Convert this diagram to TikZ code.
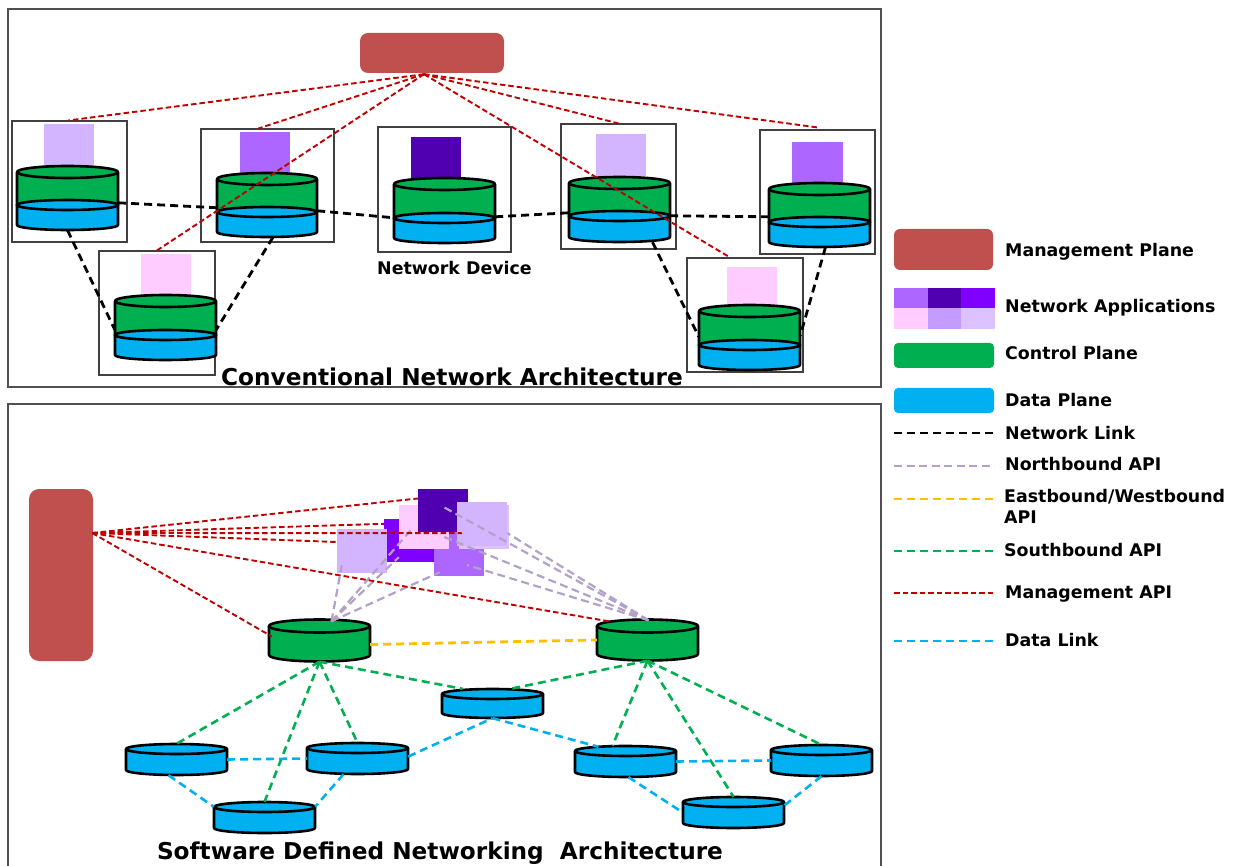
\documentclass[tikz,border=0pt]{standalone}
\usepackage{fontspec}
\setmainfont{DejaVu Sans}
\usetikzlibrary{calc,fit}

\definecolor{mgmt}{HTML}{C0504D}
\definecolor{cgreen}{HTML}{00B050}
\definecolor{cblue}{HTML}{00B0F0}
\definecolor{mred}{HTML}{C00000}
\definecolor{lilac}{HTML}{B3A2C7}
\definecolor{ewyellow}{HTML}{FFC000}
\definecolor{applav}{HTML}{D3B5FF}
\definecolor{applav2}{HTML}{DCC3FF}
\definecolor{appmed}{HTML}{AD66FF}
\definecolor{appmid}{HTML}{C49CFF}
\definecolor{appdark}{HTML}{5000B0}
\definecolor{appviolet}{HTML}{7F00FF}
\definecolor{apppink}{HTML}{FFCCFF}
\definecolor{framegray}{HTML}{505050}

% a plane drum: #1 name, #2 left x, #3 right x, #4 top y, #5 bottom y, #6 ellipse y radius, #7 fill
\newcommand\drum[7]{%
  \fill[#7] (#2,#4) -- (#2,#5) arc[start angle=180,end angle=0,x radius={(#3-#2)/2},y radius=#6] -- (#3,#4) -- cycle;
  \draw[cylline] (#2,#4) -- (#2,#5) arc[start angle=180,end angle=0,x radius={(#3-#2)/2},y radius=#6] -- (#3,#4);
  \draw[cylline,fill=#7] ({(#2+#3)/2},#4) ellipse[x radius={(#3-#2)/2},y radius=#6];
  \node[inner sep=0pt,fit={(#2,{#4-#6}) (#3,{#5+#6})}] (#1) {};
}
% an application square: #1 name, #2 x1, #3 y1, #4 x2, #5 y2, #6 fill
\newcommand\appsq[6]{%
  \node[inner sep=0pt,fill=#6,fit={(#2,#3) (#4,#5)}] (#1) {};
}

\begin{document}
\begin{tikzpicture}[x=1pt,y=-1pt,
  cylline/.style={draw=black,line width=2.6pt,line join=round},
  panel/.style={draw=framegray,line width=1.2pt,inner sep=0pt},
  devbox/.style={draw=black!75,line width=1.1pt,inner sep=0pt},
  mgmtbox/.style={fill=mgmt,rounded corners=8pt,inner sep=0pt},
  mgmtapi/.style={draw=mred,line width=1.9pt,dash pattern=on 5.5pt off 3pt},
  netlink/.style={draw=black,line width=2.8pt,dash pattern=on 8pt off 5pt},
  northapi/.style={draw=lilac,line width=2.2pt,dash pattern=on 8pt off 4.5pt},
  ewapi/.style={draw=ewyellow,line width=2.8pt,dash pattern=on 8pt off 5pt},
  southapi/.style={draw=cgreen,line width=2.6pt,dash pattern=on 8pt off 5pt},
  datalink/.style={draw=cblue,line width=2.6pt,dash pattern=on 8pt off 5pt},
  lbl/.style={font=\fontsize{17.4}{20}\selectfont\bfseries,inner sep=0pt,anchor=base west},
  ttl/.style={font=\fontsize{23.2}{26}\selectfont\bfseries,inner sep=0pt,anchor=base}]

\useasboundingbox (0,0) rectangle (1248,866);
\clip (0,0) rectangle (1248,866);

% ---------------- conventional architecture ----------------
\node[panel,fit={(8,9) (881,387)}] (toppanel) {};
\node[mgmtbox,fit={(360,33) (504,73)}] (mp) {};

\node[devbox,fit={(12,121) (127,242)}] (n1) {};
\node[devbox,fit={(201,129) (334,242)}] (n2) {};
\node[devbox,fit={(99,251) (215,375)}] (n3) {};
\node[devbox,fit={(378,127) (511,252)}] (nc) {};
\node[devbox,fit={(561,124) (676,249)}] (n4) {};
\node[devbox,fit={(687,258) (803,372)}] (n5) {};
\node[devbox,fit={(760,130) (875,254)}] (n6) {};

\appsq{p1}{44}{124}{94}{166}{applav}
\appsq{p2}{240}{132}{290}{174}{appmed}
\appsq{p3}{141}{254}{191}{296}{apppink}
\appsq{pc}{411}{137}{461}{179}{appdark}
\appsq{p4}{596}{134}{646}{176}{applav}
\appsq{p5}{727}{267}{777}{309}{apppink}
\appsq{p6}{792}{142}{843}{184}{appmed}

\drum{g1}{17}{118}{172}{205}{6}{cgreen}
\drum{b1}{17}{118}{205}{225}{5}{cblue}
\drum{g2}{217}{317}{179}{212}{6}{cgreen}
\drum{b2}{217}{317}{212}{232}{5}{cblue}
\drum{g3}{115}{216}{301}{335}{6}{cgreen}
\drum{b3}{115}{216}{335}{355}{5}{cblue}
\drum{gc}{394}{495}{184}{218}{6}{cgreen}
\drum{bc}{394}{495}{218}{238}{5}{cblue}
\drum{g4}{569}{670}{183}{216}{6}{cgreen}
\drum{b4}{569}{670}{216}{237}{5}{cblue}
\drum{g5}{699}{800}{311}{345}{6}{cgreen}
\drum{b5}{699}{800}{345}{365}{5}{cblue}
\drum{g6}{769}{870}{189}{222}{6}{cgreen}
\drum{b6}{769}{870}{222}{242}{5}{cblue}

% network links between devices
\draw[netlink] ($(b1.north east)+(0,3)$) -- ($(b2.north west)+(1,1)$);
\draw[netlink] ($(b2.north east)+(0,4)$) -- ($(bc.north west)+(0,5)$);
\draw[netlink] ($(bc.north east)+(0,4)$) -- ($(b4.north west)+(0,2)$);
\draw[netlink] ($(b4.north east)+(0,5)$) -- ($(b6.north west)+(2,0)$);
\draw[netlink] (b1.south) -- ($(b3.north west)+(0,0)$);
\draw[netlink] ($(b2.south)+(6,0)$) -- ($(b3.north east)+(0,0)$);
\draw[netlink] ($(b4.south)+(33,0)$) -- ($(b5.north west)+(0,-3)$);
\draw[netlink] ($(b6.south)+(6,0)$) -- ($(b5.north east)+(0,-4)$);

% management connections
\coordinate (mpt) at ($(mp.south)+(-8,1)$);
\draw[mgmtapi] (mpt) -- ($(n1.north)+(-1,0)$);
\draw[mgmtapi] (mpt) -- ($(n2.north)+(-9,0)$);
\draw[mgmtapi] (mpt) -- (n3.north);
\draw[mgmtapi] (mpt) -- (n4.north);
\draw[mgmtapi] (mpt) -- ($(n5.north)+(-15,0)$);
\draw[mgmtapi] (mpt) -- ($(n6.north)+(0,-2)$);

\node[lbl] (devlbl) at (377,275) {Network Device};
\node[ttl] (toptitle) at (452,386) {Conventional Network Architecture};

% ---------------- software defined networking ----------------
\node[panel,fit={(8,404) (881,900)}] (botpanel) {};
\node[mgmtbox,rounded corners=10pt,fit={(29,489) (93,661)}] (mpb) {};

\appsq{avi}{384}{519}{434}{562}{appviolet}
\appsq{amd}{434}{532}{484}{576}{appmed}
\appsq{all}{337}{529}{387}{573}{applav}
\appsq{apk}{399}{505}{449}{549}{apppink}
\appsq{adk}{418}{489}{468}{532}{appdark}
\appsq{alr2}{459}{505}{509}{549}{applav2}
\appsq{alr}{457}{502}{507}{546}{applav}

\drum{cL}{269}{370}{626}{655}{6.5}{cgreen}
\drum{cR}{597}{698}{626}{654}{6.5}{cgreen}

\drum{d1}{442}{543}{694}{713}{5}{cblue}
\drum{d2}{126}{227}{749}{770}{5}{cblue}
\drum{d3}{307}{408}{748}{769}{5}{cblue}
\drum{d4}{214}{315}{807}{828}{5}{cblue}
\drum{d5}{575}{676}{751}{772}{5}{cblue}
\drum{d6}{771}{872}{750}{771}{5}{cblue}
\drum{d7}{683}{784}{802}{823}{5}{cblue}

% southbound
\draw[southapi] (cL.south) -- (d2.north);
\draw[southapi] (cL.south) -- (d3.north);
\draw[southapi] (cL.south) -- (d4.north);
\draw[southapi] (cL.south) -- ($(d1.north)+(-30,0)$);
\draw[southapi] (cR.south) -- ($(d1.north)+(18,0)$);
\draw[southapi] (cR.south) -- ($(d5.north)+(-13,0)$);
\draw[southapi] (cR.south) -- (d7.north);
\draw[southapi] (cR.south) -- (d6.north);

% data links
\draw[datalink] (d2.east) -- (d3.west);
\draw[datalink] ($(d2.south)+(-8,0)$) -- ($(d4.north west)+(0,5)$);
\draw[datalink] ($(d3.south)+(-14,0)$) -- ($(d4.north east)+(0,5)$);
\draw[datalink] ($(d3.east)+(0,-2)$) -- (d1.south);
\draw[datalink] (d1.south) -- ($(d5.north)+(-27,1)$);
\draw[datalink] (d5.east) -- (d6.west);
\draw[datalink] ($(d5.south)+(3,0)$) -- (d7.west);
\draw[datalink] (d6.south) -- ($(d7.east)+(0,-7)$);

% east/westbound
\draw[ewapi] ($(cL.east)+(0,4)$) -- (cR.west);

% northbound
\coordinate (nbL) at ($(cL.north)+(12,2)$);
\coordinate (nbR) at ($(cR.north)+(1,1)$);
\draw[northapi] (nbL) -- ($(all.south west)+(5,-8)$);
\draw[northapi] (nbL) -- ($(apk.west)+(13,2)$);
\draw[northapi] (nbL) -- ($(avi.south west)+(15,-5)$);
\draw[northapi] (nbL) -- ($(amd.south west)+(6,-4)$);
\draw[northapi] (nbR) -- ($(adk.west)+(23,-5)$);
\draw[northapi] (nbR) -- ($(adk.south west)+(22,3)$);
\draw[northapi] (nbR) -- ($(amd.center)+(8,11)$);
\draw[northapi] (nbR) -- ($(alr.east)+(0,9)$);

% management connections
\coordinate (mpbt) at ($(mpb.east)+(-1,-42)$);
\draw[mgmtapi] (mpbt) -- ($(adk.west)+(0,-12)$);
\draw[mgmtapi] (mpbt) -- ($(avi.north west)+(0,5)$);
\draw[mgmtapi] (mpbt) -- ($(adk.south east)+(-6,1)$);
\draw[mgmtapi] (mpbt) -- ($(all.west)+(0,-9)$);
\draw[mgmtapi] (mpbt) -- ($(cR.north west)+(12,2)$);
\draw[mgmtapi] (mpbt) -- ($(cL.west)+(3,-4)$);

\node[ttl] (bottitle) at (440,859) {Software Defined Networking~ Architecture};

% ---------------- legend ----------------
\node[mgmtbox,rounded corners=6pt,fit={(894,229) (993,270)}] (kmp) {};
\fill[appmed] (894,288) rectangle (928,308);
\fill[appdark] (928,288) rectangle (961,308);
\fill[appviolet] (961,288) rectangle (995,308);
\fill[apppink] (894,308) rectangle (928,329);
\fill[appmid] (928,308) rectangle (961,329);
\fill[applav2] (961,308) rectangle (995,329);
\node[inner sep=0pt,fill=cgreen,rounded corners=4pt,fit={(894,343) (994,368)}] (kcp) {};
\node[inner sep=0pt,fill=cblue,rounded corners=4pt,fit={(894,388) (994,413)}] (kdp) {};
\draw[netlink] (894,433) -- (994,433);
\draw[northapi] (894,466) -- (994,466);
\draw[ewapi] (894,499) -- (994,499);
\draw[southapi] (894,551) -- (994,551);
\draw[mgmtapi] (894,593) -- (994,593);
\draw[datalink] (894,641) -- (994,641);

\node[lbl] at (1005,257) {Management Plane};
\node[lbl] at (1005,313) {Network Applications};
\node[lbl] at (1005,360) {Control Plane};
\node[lbl] at (1005,407) {Data Plane};
\node[lbl] at (1005,440) {Network Link};
\node[lbl] at (1005,471) {Northbound API};
\node[lbl] at (1004,502) {Eastbound/Westbound};
\node[lbl] at (1004,523) {API};
\node[lbl] at (1004,556) {Southbound API};
\node[lbl] at (1005,598) {Management API};
\node[lbl] at (1005,646) {Data Link};
\end{tikzpicture}
\end{document}
